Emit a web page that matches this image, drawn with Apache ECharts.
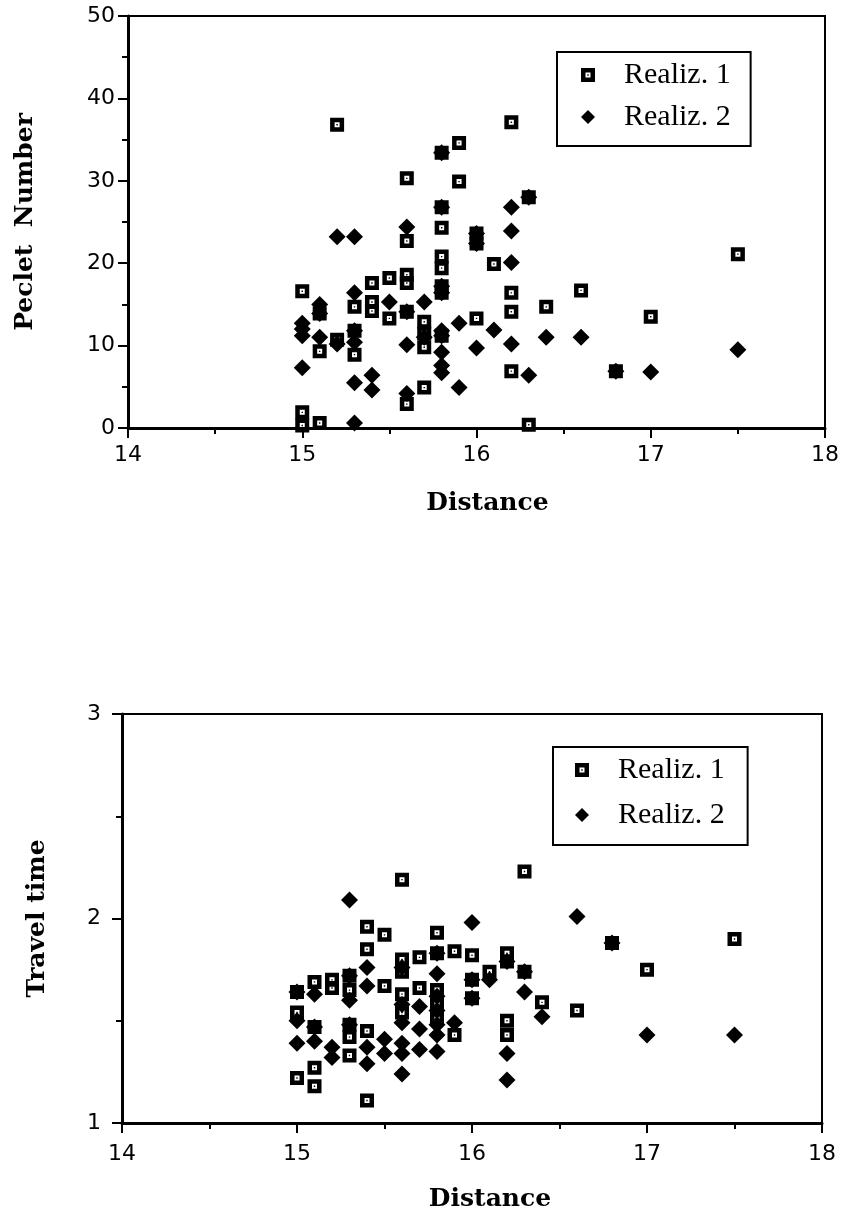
<!DOCTYPE html>
<html>
<head>
<meta charset="utf-8">
<script src="https://cdn.jsdelivr.net/npm/echarts@6/dist/echarts.min.js"></script>
<style>
  html, body { margin: 0; padding: 0; background: #fff; }
  #chart { width: 842px; height: 1221px; }
</style>
</head>
<body>
<div id="chart"></div>
<script>
// x ticks shared by both panels
const distanceTicks = [14, 15, 16, 17, 18];
const legendNames = ["Realiz. 1", "Realiz. 2"];

// top panel: Peclet number vs distance, [distance, peclet]
const pecletR1 = [
  [15.0, 16.6], [15.0, 1.9], [15.0, 0.3],
  [15.1, 0.6], [15.1, 9.3], [15.1, 13.9],
  [15.2, 36.8], [15.2, 10.7],
  [15.3, 14.7], [15.3, 11.8], [15.3, 8.9],
  [15.4, 17.6], [15.4, 15.3], [15.4, 14.2],
  [15.5, 18.2], [15.5, 13.3],
  [15.6, 30.3], [15.6, 22.7], [15.6, 18.6], [15.6, 17.6], [15.6, 14.1], [15.6, 2.9],
  [15.7, 12.9], [15.7, 11.5], [15.7, 9.8], [15.7, 4.9],
  [15.8, 33.4], [15.8, 26.8], [15.8, 24.3], [15.8, 20.8], [15.8, 19.4], [15.8, 17.2], [15.8, 16.4], [15.8, 11.2],
  [15.9, 34.6], [15.9, 29.9],
  [16.0, 23.6], [16.0, 22.4], [16.0, 13.3],
  [16.1, 19.9],
  [16.2, 37.1], [16.2, 16.4], [16.2, 14.1], [16.2, 6.9],
  [16.3, 28.0], [16.3, 0.4],
  [16.4, 14.7],
  [16.6, 16.7],
  [16.8, 6.9],
  [17.0, 13.5],
  [17.5, 21.1]
];
const pecletR2 = [
  [15.0, 12.7], [15.0, 12.0], [15.0, 11.2], [15.0, 7.3],
  [15.1, 15.0], [15.1, 13.9], [15.1, 11.0],
  [15.2, 23.2], [15.2, 10.2],
  [15.3, 23.2], [15.3, 16.4], [15.3, 11.8], [15.3, 10.4], [15.3, 5.5], [15.3, 0.6],
  [15.4, 6.4], [15.4, 4.6],
  [15.5, 15.3],
  [15.6, 24.4], [15.6, 14.1], [15.6, 10.1], [15.6, 4.2],
  [15.7, 15.3], [15.7, 11.0],
  [15.8, 33.4], [15.8, 26.8], [15.8, 17.2], [15.8, 16.4], [15.8, 11.8], [15.8, 11.2], [15.8, 9.2], [15.8, 7.6], [15.8, 6.7],
  [15.9, 12.7], [15.9, 4.9],
  [16.0, 23.6], [16.0, 22.4], [16.0, 9.7],
  [16.1, 11.9],
  [16.2, 26.8], [16.2, 23.9], [16.2, 20.1], [16.2, 10.2],
  [16.3, 28.0], [16.3, 6.4],
  [16.4, 11.0],
  [16.6, 11.0],
  [16.8, 6.9],
  [17.0, 6.8],
  [17.5, 9.5]
];

// bottom panel: travel time vs distance, [distance, time]
const travelR1 = [
  [15.0, 1.64], [15.0, 1.54], [15.0, 1.22],
  [15.1, 1.69], [15.1, 1.47], [15.1, 1.27], [15.1, 1.18],
  [15.2, 1.70], [15.2, 1.66],
  [15.3, 1.72], [15.3, 1.65], [15.3, 1.48], [15.3, 1.42], [15.3, 1.33],
  [15.4, 1.96], [15.4, 1.85], [15.4, 1.45], [15.4, 1.11],
  [15.5, 1.92], [15.5, 1.67],
  [15.6, 2.19], [15.6, 1.80], [15.6, 1.74], [15.6, 1.63], [15.6, 1.54],
  [15.7, 1.81], [15.7, 1.66],
  [15.8, 1.93], [15.8, 1.83], [15.8, 1.65], [15.8, 1.58], [15.8, 1.51],
  [15.9, 1.84], [15.9, 1.43],
  [16.0, 1.82], [16.0, 1.70], [16.0, 1.61],
  [16.1, 1.74],
  [16.2, 1.83], [16.2, 1.79], [16.2, 1.50], [16.2, 1.43],
  [16.3, 2.23], [16.3, 1.74],
  [16.4, 1.59],
  [16.6, 1.55],
  [16.8, 1.88],
  [17.0, 1.75],
  [17.5, 1.90]
];
const travelR2 = [
  [15.0, 1.64], [15.0, 1.50], [15.0, 1.39],
  [15.1, 1.63], [15.1, 1.47], [15.1, 1.40],
  [15.2, 1.37], [15.2, 1.32],
  [15.3, 2.09], [15.3, 1.72], [15.3, 1.60], [15.3, 1.48],
  [15.4, 1.76], [15.4, 1.67], [15.4, 1.37], [15.4, 1.29],
  [15.5, 1.41], [15.5, 1.34],
  [15.6, 1.76], [15.6, 1.58], [15.6, 1.49], [15.6, 1.39], [15.6, 1.34], [15.6, 1.24],
  [15.7, 1.57], [15.7, 1.46], [15.7, 1.36],
  [15.8, 1.83], [15.8, 1.73], [15.8, 1.62], [15.8, 1.55], [15.8, 1.48], [15.8, 1.43], [15.8, 1.35],
  [15.9, 1.49],
  [16.0, 1.98], [16.0, 1.70], [16.0, 1.61],
  [16.1, 1.70],
  [16.2, 1.79], [16.2, 1.34], [16.2, 1.21],
  [16.3, 1.74], [16.3, 1.64],
  [16.4, 1.52],
  [16.6, 2.01],
  [16.8, 1.88],
  [17.0, 1.43],
  [17.5, 1.43]
];

// black square with a white hole and a dot in the middle
const squareDot = "path://M0,0H14V14H0Z M4.5,4.5V9.5H9.5V4.5Z M6.3,6.3H7.7V7.7H6.3Z";

const tickFont = { color: "#000", fontFamily: "DejaVu Sans", fontSize: 22 };
const titleFont = { color: "#000", fontFamily: "DejaVu Serif", fontWeight: "bold", fontSize: 25 };
const legendText = { color: "#000", fontFamily: "Liberation Serif", fontSize: 30, lineHeight: 30, padding: [0, 0, 0, 24] };

function xAxisFor(gridIndex, labelMargin, nameGap, shift) {
  return {
    type: "value",
    gridIndex: gridIndex,
    min: distanceTicks[0],
    max: distanceTicks[distanceTicks.length - 1],
    interval: 1,
    name: "Distance",
    nameLocation: "middle",
    nameGap: nameGap,
    nameTextStyle: Object.assign({ padding: [0, 0, 0, shift] }, titleFont),
    axisLine: { lineStyle: { color: "#000", width: 3 } },
    axisTick: { length: 10, lineStyle: { color: "#000", width: 2 } },
    minorTick: { show: true, splitNumber: 2, length: 6, lineStyle: { color: "#000", width: 2 } },
    axisLabel: Object.assign({ margin: labelMargin }, tickFont),
    splitLine: { show: false }
  };
}

function yAxisFor(gridIndex, name, min, max, interval, labelMargin, nameGap) {
  return {
    type: "value",
    gridIndex: gridIndex,
    min: min,
    max: max,
    interval: interval,
    name: name,
    nameLocation: "middle",
    nameGap: nameGap,
    nameTextStyle: titleFont,
    axisLine: { lineStyle: { color: "#000", width: 3 } },
    axisTick: { length: 10, lineStyle: { color: "#000", width: 2 } },
    minorTick: { show: true, splitNumber: 2, length: 6, lineStyle: { color: "#000", width: 2 } },
    axisLabel: Object.assign({ margin: labelMargin }, tickFont),
    splitLine: { show: false }
  };
}

function scatter(name, idx, data, symbol, size) {
  return {
    name: name,
    type: "scatter",
    xAxisIndex: idx,
    yAxisIndex: idx,
    data: data,
    symbol: symbol,
    symbolSize: size,
    itemStyle: { color: "#000", opacity: 1 },
    emphasis: { disabled: true }
  };
}

const chart = echarts.init(document.getElementById("chart"));
const option = {
  backgroundColor: "#fff",
  animation: false,
  grid: [
    { left: 128, top: 16, width: 700, height: 412, show: true, borderColor: "#000", borderWidth: 2 },
    { left: 122, top: 714, width: 700, height: 409, show: true, borderColor: "#000", borderWidth: 2 }
  ],
  legend: [
    {
      data: legendNames, orient: "vertical", left: 557, top: 52,
      padding: [8, 20, 14, 24], itemGap: 12, itemWidth: 14, itemHeight: 14,
      borderColor: "#000", borderWidth: 2, textStyle: legendText, selectedMode: false
    },
    {
      data: legendNames, orient: "vertical", left: 553, top: 747,
      padding: [8, 23, 15, 22], itemGap: 15, itemWidth: 14, itemHeight: 14,
      borderColor: "#000", borderWidth: 2, textStyle: legendText, selectedMode: false
    }
  ],
  xAxis: [
    xAxisFor(0, 16, 63, 22),
    xAxisFor(1, 20, 64, 36)
  ],
  yAxis: [
    yAxisFor(0, "Peclet  Number", 0, 50, 10, 13, 90),
    yAxisFor(1, "Travel time", 1, 3, 1, 21, 72)
  ],
  series: [
    scatter(legendNames[0], 0, pecletR1, squareDot, 14),
    scatter(legendNames[1], 0, pecletR2, "diamond", 17),
    scatter(legendNames[0], 1, travelR1, squareDot, 14),
    scatter(legendNames[1], 1, travelR2, "diamond", 17)
  ]
};
chart.setOption(option);
</script>
</body>
</html>
